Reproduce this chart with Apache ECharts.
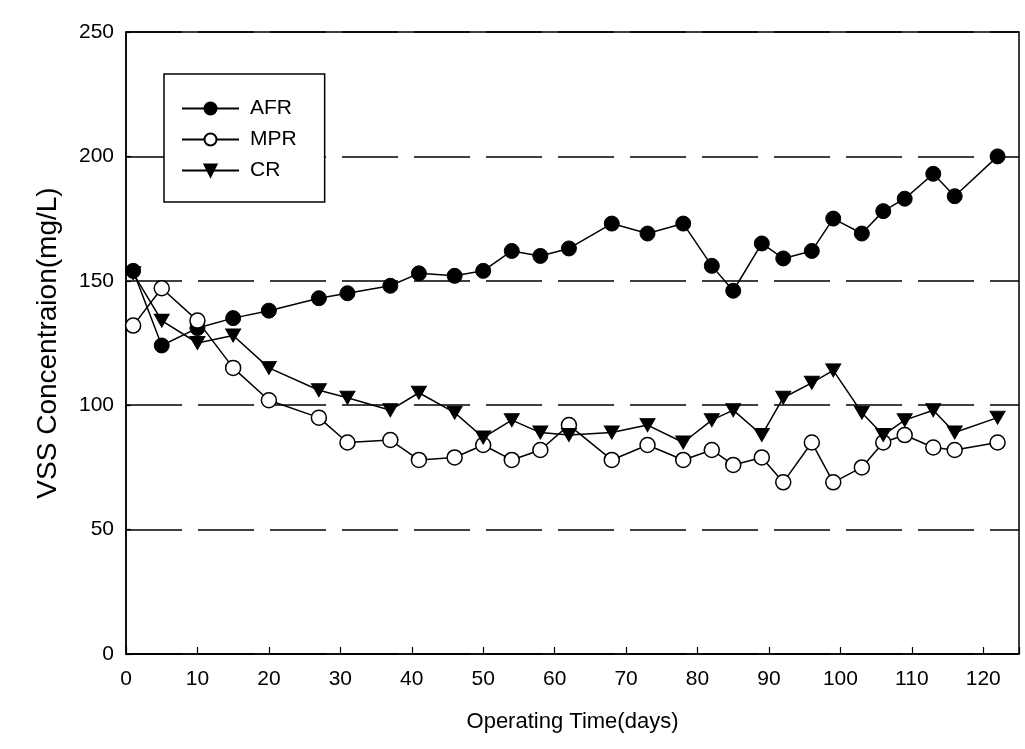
<!DOCTYPE html>
<html>
<head>
<meta charset="utf-8">
<script src="https://cdn.jsdelivr.net/npm/echarts@6/dist/echarts.min.js"></script>
<style>html,body{margin:0;padding:0;background:#fff}#c{width:1025px;height:749px}</style>
</head>
<body>
<div id="c"></div>
<script>
var days = [1, 5, 10, 15, 20, 27, 31, 37, 41, 46, 50, 54, 58, 62, 68, 73, 78, 82, 85, 89, 92, 96, 99, 103, 106, 109, 113, 116, 122];
var afr  = [154, 124, 131, 135, 138, 143, 145, 148, 153, 152, 154, 162, 160, 163, 173, 169, 173, 156, 146, 165, 159, 162, 175, 169, 178, 183, 193, 184, 200];
var mpr  = [132, 147, 134, 115, 102, 95, 85, 86, 78, 79, 84, 78, 82, 92, 78, 84, 78, 82, 76, 79, 69, 85, 69, 75, 85, 88, 83, 82, 85];
var cr   = [153, 134, 125, 128, 115, 106, 103, 98, 105, 97, 87, 94, 89, 88, 89, 92, 85, 94, 98, 88, 103, 109, 114, 97, 88, 94, 98, 89, 95];
var yTicks = [0, 50, 100, 150, 200, 250];

function pairs(v) { return days.map(function (d, i) { return [d, v[i]]; }); }

var font = 'Liberation Sans, Arial, sans-serif';
var chart = echarts.init(document.getElementById('c'), null, {renderer: 'canvas'});
chart.setOption({
  animation: false,
  backgroundColor: '#fff',
  grid: {left: 126, right: 6, top: 32, bottom: 95, show: true, borderColor: '#000', borderWidth: 1.5, backgroundColor: 'transparent'},
  legend: {
    orient: 'vertical', left: 164, top: 74,
    padding: [24, 28, 21, 17], itemGap: 10,
    itemWidth: 57, itemHeight: 15,
    borderColor: '#000', borderWidth: 1.5, backgroundColor: '#fff',
    textStyle: {fontFamily: font, fontSize: 21, color: '#000', padding: [0, 0, 0, 6]},
    data: ['AFR', 'MPR', 'CR']
  },
  xAxis: {
    type: 'value', min: 0, max: 125, interval: 10,
    name: 'Operating Time(days)', nameLocation: 'middle', nameGap: 57,
    nameTextStyle: {fontFamily: font, fontSize: 22, color: '#000'},
    axisLine: {show: true, lineStyle: {color: '#000', width: 1.5}},
    axisTick: {show: true, inside: true, length: 7, lineStyle: {color: '#000', width: 1.2}},
    axisLabel: {fontFamily: font, fontSize: 21, color: '#000', margin: 15,
      formatter: function (v) { return v % 10 === 0 ? String(v) : ''; }},
    splitLine: {show: false}
  },
  yAxis: {
    type: 'value', min: 0, max: 250, interval: 50,
    name: 'VSS Concentraion(mg/L)', nameLocation: 'middle', nameGap: 64, nameRotate: 90,
    nameTextStyle: {fontFamily: font, fontSize: 28, color: '#000'},
    axisLine: {show: true, lineStyle: {color: '#000', width: 1.5}},
    axisTick: {show: true, inside: true, length: 5, lineStyle: {color: '#000', width: 1.2}},
    axisLabel: {fontFamily: font, fontSize: 21, color: '#000', margin: 12,
      formatter: function (v) { return yTicks.indexOf(v) >= 0 ? String(v) : ''; }},
    splitLine: {show: true, lineStyle: {color: '#000', width: 1.5, type: [56, 16], dashOffset: 0}}
  },
  series: [
    {name: 'AFR', type: 'line', data: pairs(afr), symbol: 'circle', symbolSize: 15,
      lineStyle: {color: '#000', width: 1.5}, itemStyle: {color: '#000', borderColor: '#000', borderWidth: 1}, z: 3},
    {name: 'MPR', type: 'line', data: pairs(mpr), symbol: 'circle', symbolSize: 15,
      lineStyle: {color: '#000', width: 1.5}, itemStyle: {color: '#fff', borderColor: '#000', borderWidth: 1.5}, z: 4},
    {name: 'CR', type: 'line', data: pairs(cr), symbol: 'triangle', symbolSize: [15, 13], symbolRotate: 180,
      lineStyle: {color: '#000', width: 1.5}, itemStyle: {color: '#000', borderColor: '#000', borderWidth: 1}, z: 5}
  ]
});
</script>
</body>
</html>
